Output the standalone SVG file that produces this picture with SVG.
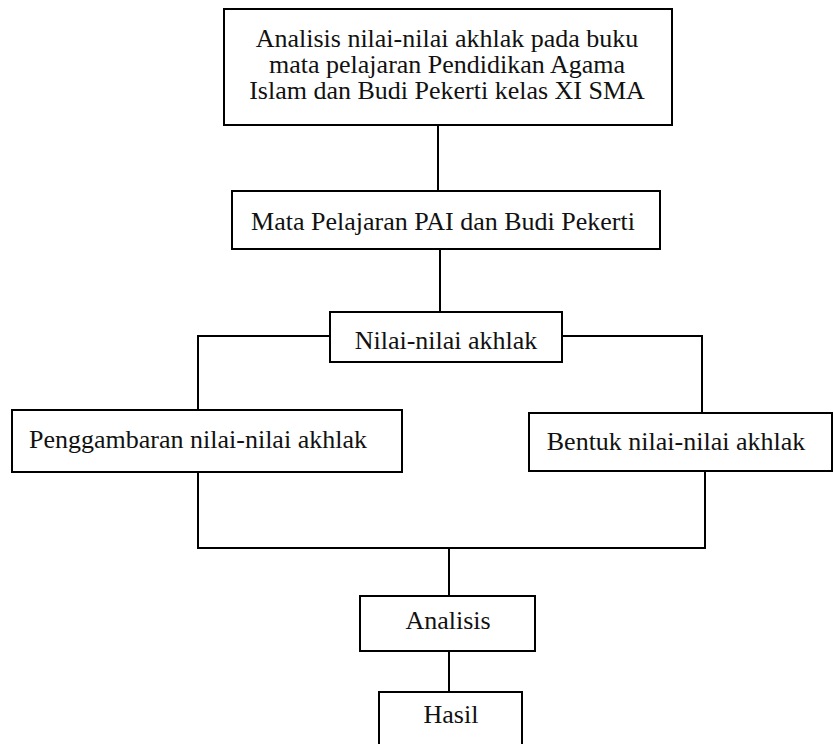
<svg xmlns="http://www.w3.org/2000/svg" width="833" height="744" viewBox="0 0 833 744">
<style>
.box{fill:#fff;stroke:#000;stroke-width:2}
.ln{fill:none;stroke:#000;stroke-width:2}
text{font-family:"Liberation Serif","Times New Roman",serif;font-size:26px;fill:#111;text-anchor:middle}
</style>
<rect width="833" height="744" fill="#fff"/>
<g id="connectors">
<path class="ln" d="M438,126 V191"/>
<path class="ln" d="M440,249 V312"/>
<path class="ln" d="M330,336 H198 V410"/>
<path class="ln" d="M562,336 H702 V413"/>
<path class="ln" d="M198,472 V548 H705 V471"/>
<path class="ln" d="M449,548 V596"/>
<path class="ln" d="M449,651 V692"/>
</g>
<g id="node-top">
<rect class="box" x="224" y="9" width="448" height="116"/>
<text x="447" y="47">Analisis nilai-nilai akhlak pada buku</text>
<text x="447" y="73">mata pelajaran Pendidikan Agama</text>
<text x="447" y="99">Islam dan Budi Pekerti kelas XI SMA</text>
</g>
<g id="node-mapel">
<rect class="box" x="232" y="191" width="428" height="58"/>
<text x="443" y="230">Mata Pelajaran PAI dan Budi Pekerti</text>
</g>
<g id="node-nilai">
<rect class="box" x="330" y="312" width="232" height="50"/>
<text x="446" y="349">Nilai-nilai akhlak</text>
</g>
<g id="node-penggambaran">
<rect class="box" x="12" y="410" width="390" height="62"/>
<text x="198" y="448">Penggambaran nilai-nilai akhlak</text>
</g>
<g id="node-bentuk">
<rect class="box" x="529" y="413" width="303" height="58"/>
<text x="676" y="450">Bentuk nilai-nilai akhlak</text>
</g>
<g id="node-analisis">
<rect class="box" x="360" y="596" width="175" height="55"/>
<text x="448" y="629">Analisis</text>
</g>
<g id="node-hasil">
<rect class="box" x="379" y="692" width="143" height="60"/>
<text x="451" y="723">Hasil</text>
</g>
</svg>
